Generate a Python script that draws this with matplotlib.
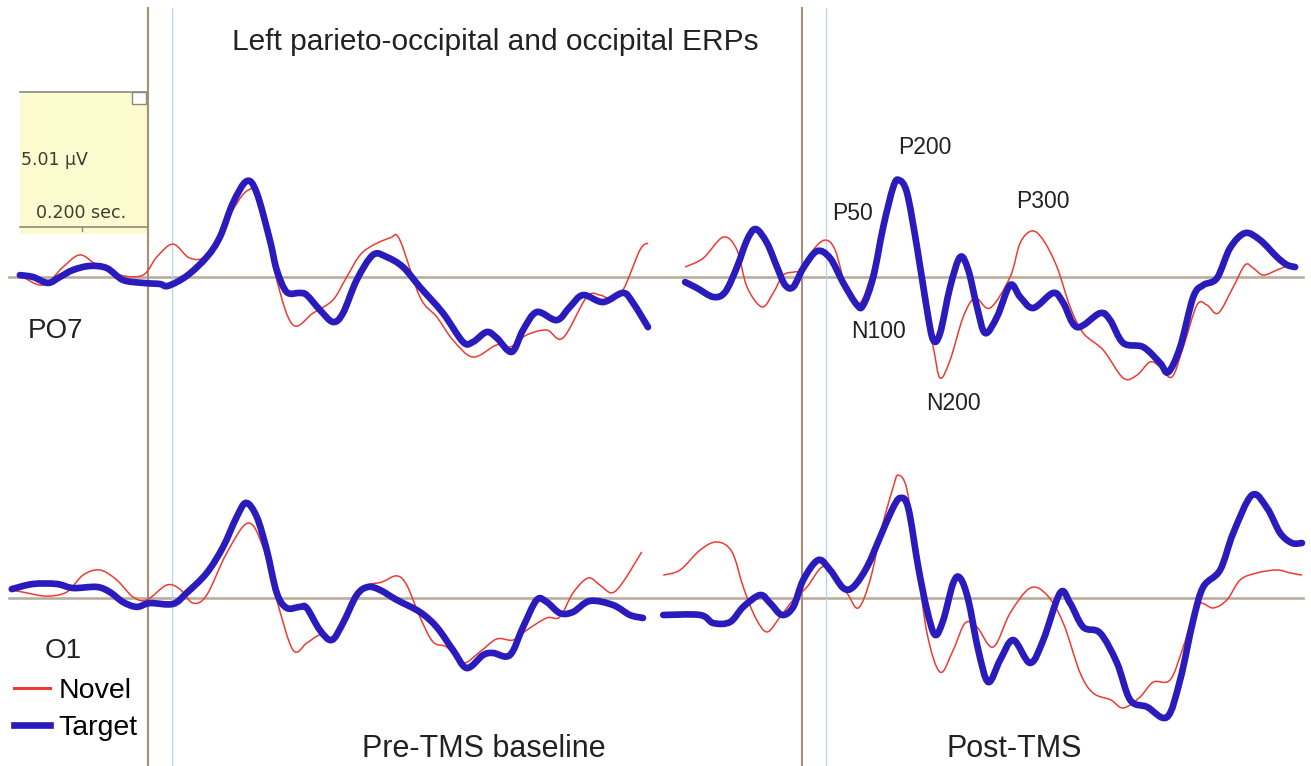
import numpy as np
import matplotlib.pyplot as plt
from matplotlib.lines import Line2D
from matplotlib.patches import Rectangle, PathPatch
from matplotlib.path import Path

plt.rcParams['font.family'] = ['Liberation Sans', 'DejaVu Sans']

# ERP traces: time in ms (0 = brown marker), amplitude in uV
# ---- PO7, pre-TMS baseline
po7_pre_target_t = [-205, -184, -160, -141, -120, -93, -66, -40, -8, 19, 32, 62, 94, 115, 136, 158, 174,
                    195, 206, 222, 243, 254, 275, 296, 312, 334, 360, 382, 408, 435, 472, 504, 520, 542,
                    558, 582, 600, 622, 654, 675, 696, 728, 760, 776, 800]
po7_pre_target_v = [0.07, 0, -0.22, 0, 0.26, 0.41, 0.33, -0.11, -0.22, -0.26, -0.33, 0.04, 0.74, 1.48, 2.75,
                    3.56, 3.12, 1.37, 0.26, -0.56, -0.59, -0.67, -1.22, -1.67, -1.34, -0.11, 0.82, 0.74, 0.37,
                    -0.37, -1.34, -2.41, -2.41, -2.04, -2.26, -2.78, -1.97, -1.30, -1.60, -1.11, -0.67, -0.93,
                    -0.59, -0.96, -1.86]
po7_pre_novel_t = [-205, -168, -136, -109, -82, -45, -8, 14, 40, 67, 94, 126, 158, 179, 206, 232, 264, 296,
                   318, 344, 387, 403, 435, 462, 488, 520, 558, 579, 606, 638, 664, 702, 723, 739, 760, 787, 800]
po7_pre_novel_v = [0.07, -0.30, 0.37, 0.82, 0.45, 0.07, 0.07, 0.74, 1.22, 0.70, 0.82, 2.12, 3.19, 2.86, -0.11,
                   -1.78, -1.34, -0.85, 0, 0.93, 1.45, 1.37, -0.74, -1.48, -2.34, -2.97, -2.52, -2.60, -2.15,
                   -1.97, -2.26, -0.74, -0.67, -0.78, -0.48, 1.00, 1.26]

# ---- PO7, post-TMS
po7_post_target_t = [-187, -168, -142, -123, -104, -88, -74, -56, -40, -27, -14, 2, 24, 45, 66, 88, 98, 114,
                     130, 146, 155, 168, 184, 200, 210, 221, 237, 253, 266, 280, 293, 312, 333, 349, 370, 402,
                     418, 440, 477, 493, 514, 546, 573, 586, 605, 626, 642, 664, 685, 709, 733, 760, 776, 789]
po7_post_target_v = [-0.19, -0.41, -0.74, -0.56, 0.37, 1.37, 1.78, 1.26, 0.37, -0.30, -0.37, 0.33, 0.96, 0.70,
                     -0.22, -1.04, -1.04, 0, 1.86, 3.34, 3.60, 3.12, 1.11, -1.22, -2.34, -2.08, -0.37, 0.74, 0.26,
                     -1.11, -2.08, -1.48, -0.30, -0.74, -1.15, -0.59, -0.96, -1.86, -1.34, -1.60, -2.45, -2.60,
                     -3.19, -3.53, -2.60, -0.74, -0.30, -0.04, 1.08, 1.63, 1.37, 0.74, 0.45, 0.37]
po7_post_novel_t = [-187, -158, -126, -104, -88, -64, -46, -30, -11, 2, 18, 37, 53, 72, 93, 114, 136, 155, 173,
                    194, 210, 221, 237, 258, 277, 301, 333, 349, 368, 386, 408, 429, 450, 482, 514, 536, 557,
                    573, 592, 610, 632, 648, 666, 690, 709, 722, 738, 760, 776]
po7_post_novel_v = [0.37, 0.70, 1.48, 1.00, -0.37, -1.11, -0.59, 0.07, 0.19, 0.26, 1.00, 1.37, 1.00, -0.48,
                    -0.96, 0.37, 2.49, 3.56, 2.60, -0.85, -2.60, -3.75, -3.08, -1.48, -0.78, -1.15, 0, 1.26,
                    1.71, 1.37, 0.37, -1.11, -2.08, -2.71, -3.75, -3.64, -3.15, -3.34, -3.71, -2.60, -1.04,
                    -1.04, -1.34, -0.37, 0.45, 0.33, 0.07, 0.26, 0.41]

# ---- O1, pre-TMS baseline
o1_pre_target_t = [-218, -184, -146, -120, -82, -61, -40, -18, 3, 40, 62, 94, 120, 142, 157, 174, 190, 206,
                   222, 243, 254, 275, 294, 312, 334, 352, 371, 398, 435, 462, 488, 510, 536, 552, 579, 600,
                   622, 638, 659, 680, 707, 744, 771, 792]
o1_pre_target_v = [0.33, 0.52, 0.52, 0.37, 0.41, 0.22, -0.15, -0.33, -0.19, -0.22, 0.19, 0.93, 1.89, 3.01,
                   3.53, 3.01, 1.78, 0.19, -0.37, -0.33, -0.37, -1.19, -1.56, -0.93, 0.11, 0.41, 0.30, -0.07,
                   -0.52, -1.08, -1.93, -2.60, -2.12, -2.04, -2.12, -1.08, -0.07, -0.15, -0.56, -0.52, -0.11,
                   -0.26, -0.63, -0.74]
o1_pre_novel_t = [-218, -194, -162, -130, -104, -77, -50, -24, -2, 30, 51, 72, 94, 126, 160, 184, 206, 232,
                  254, 275, 296, 318, 344, 374, 398, 414, 435, 456, 478, 504, 531, 558, 584, 606, 638, 659,
                  680, 704, 723, 742, 760, 790]
o1_pre_novel_v = [0.30, 0.19, 0.07, 0.22, 0.85, 1.04, 0.67, 0.04, -0.07, 0.48, 0.33, -0.19, 0.11, 1.67, 2.78,
                  1.89, -0.07, -1.93, -1.67, -1.37, -1.45, -0.70, 0.37, 0.59, 0.82, 0.48, -0.70, -1.63, -1.82,
                  -2.41, -2.00, -1.52, -1.56, -1.19, -0.74, -0.70, 0.19, 0.74, 0.48, 0.19, 0.59, 1.71]

# ---- O1, post-TMS
o1_post_target_t = [-222, -163, -142, -115, -94, -67, -51, -32, -14, 2, 26, 45, 66, 82, 104, 125, 144, 157,
                    170, 186, 200, 213, 226, 242, 253, 266, 282, 298, 317, 338, 365, 386, 413, 429, 450, 477,
                    504, 525, 552, 584, 605, 626, 642, 669, 690, 720, 744, 765, 784, 800]
o1_post_target_v = [-0.63, -0.63, -0.93, -0.89, -0.33, 0.11, -0.19, -0.63, -0.33, 0.67, 1.41, 1.04, 0.37, 0.41,
                    1.15, 2.26, 3.27, 3.71, 3.34, 1.15, -0.45, -1.37, -0.82, 0.56, 0.74, -0.07, -1.93, -3.12,
                    -2.30, -1.56, -2.41, -1.56, 0.19, -0.19, -1.08, -1.30, -2.41, -3.78, -4.04, -4.42, -3.04,
                    -0.82, 0.41, 1.04, 2.41, 3.82, 3.34, 2.41, 2.04, 2.04]
o1_post_novel_t = [-222, -195, -163, -136, -112, -94, -75, -56, -35, -14, 8, 32, 50, 72, 90, 109, 128, 146, 154,
                   168, 184, 200, 221, 242, 261, 280, 306, 333, 365, 392, 418, 445, 466, 494, 514, 541, 562,
                   589, 610, 632, 658, 680, 701, 728, 760, 781, 800]
o1_post_novel_v = [0.85, 1.04, 1.78, 2.08, 1.71, 0.41, -0.70, -1.26, -0.70, -0.07, 0.41, 1.15, 0.93, 0.19,
                   -0.37, 0.67, 2.63, 4.12, 4.56, 4.01, 1.41, -1.30, -2.75, -1.93, -0.93, -1.08, -1.82, -0.56,
                   0.37, 0.11, -0.93, -2.78, -3.53, -3.78, -4.08, -3.67, -3.12, -3.04, -1.82, -0.26, -0.37,
                   -0.07, 0.67, 0.93, 1.04, 0.93, 0.85]

conditions = ["Novel", "Target"]
channels = ["PO7", "O1"]
peak_labels = ["P50", "P200", "P300", "N100", "N200"]
cal_uv = "5.01 \u00b5V"
cal_time = "0.200 sec."

# style
W, H = 1311, 766
PX_MS = 0.625      # pixels per ms
PX_UV = 26.95      # pixels per uV
red = '#ee3b32'
blue = '#2a1bbd'
brown = '#a88f76'
base_col = '#bbad9e'
marker_blue = '#b3d3f2'

fig = plt.figure(figsize=(W / 100, H / 100), dpi=100)
fig.patch.set_facecolor('white')


def panel(left, right, top, bottom, zero_x, base_y):
    # axes laid out in figure pixels, data in ms / uV
    ax = fig.add_axes([left / W, 1 - bottom / H, (right - left) / W, (bottom - top) / H])
    ax.set_xlim((left - zero_x) / PX_MS, (right - zero_x) / PX_MS)
    ax.set_ylim((base_y - bottom) / PX_UV, (base_y - top) / PX_UV)
    ax.axis('off')
    return ax


def smooth_trace(ax, t, v, **kw):
    # draw the read points joined by Catmull-Rom bezier segments (passes through every point)
    p = np.column_stack([t, v]).astype(float)
    n = len(p)
    verts = [p[0]]
    codes = [Path.MOVETO]
    for i in range(n - 1):
        p0 = p[max(i - 1, 0)]
        p1 = p[i]
        p2 = p[i + 1]
        p3 = p[min(i + 2, n - 1)]
        verts += [p1 + (p2 - p0) / 6, p2 - (p3 - p1) / 6, p2]
        codes += [Path.CURVE4] * 3
    patch = PathPatch(Path(verts, codes), fill=False, clip_on=False, **kw)
    ax.add_patch(patch)
    return patch


ax_po7_pre = panel(0, 655, 0, 440, 148, 277)
ax_po7_post = panel(655, W, 0, 440, 802, 277)
ax_o1_pre = panel(0, 655, 440, H, 148, 598)
ax_o1_post = panel(655, W, 440, H, 802, 598)

# calibration box (drawn in figure pixels)
box = fig.add_axes([0, 0, 1, 1], zorder=-1)
box.set_xlim(0, W)
box.set_ylim(H, 0)
box.axis('off')
box.add_patch(Rectangle((20, 92), 127, 142, facecolor='#fcfbcf', edgecolor='none'))
box.plot([20, 147], [92, 92], color='#8a8a80', lw=1.2)
box.plot([20, 147], [227, 227], color='#8a8a80', lw=1.2)
box.plot([82, 82], [227, 231], color='#8a8a80', lw=1)
box.add_patch(Rectangle((132, 92), 14, 12, facecolor='white', edgecolor='#8a8a80', lw=1))
box.text(21, 160, cal_uv, fontsize=12.5, color='#3c3c30', va='center', ha='left', family='DejaVu Sans')
box.text(36, 213, cal_time, fontsize=12.5, color='#3c3c30', va='center', ha='left', family='DejaVu Sans')

# reference lines
for ax, x0, x1, top_frac in [(ax_po7_pre, 9 / 655, 1, 1 - 8 / 440), (ax_po7_post, 0, 648 / 656, 1 - 8 / 440),
                             (ax_o1_pre, 9 / 655, 1, 1), (ax_o1_post, 0, 648 / 656, 1)]:
    ax.axhline(0, xmin=x0, xmax=x1, color=base_col, lw=1.9, zorder=1)
    ax.axvline(0, ymin=0, ymax=top_frac, color=brown, lw=1.5, zorder=1)
    ax.axvline(38, ymin=0, ymax=top_frac, color=marker_blue, lw=0.9, zorder=1)

traces = [
    (ax_po7_pre, po7_pre_novel_t, po7_pre_novel_v, po7_pre_target_t, po7_pre_target_v),
    (ax_po7_post, po7_post_novel_t, po7_post_novel_v, po7_post_target_t, po7_post_target_v),
    (ax_o1_pre, o1_pre_novel_t, o1_pre_novel_v, o1_pre_target_t, o1_pre_target_v),
    (ax_o1_post, o1_post_novel_t, o1_post_novel_v, o1_post_target_t, o1_post_target_v),
]
for ax, nt, nv, tt, tv in traces:
    smooth_trace(ax, nt, nv, edgecolor=red, lw=1.1, zorder=2, joinstyle='round')
    smooth_trace(ax, tt, tv, edgecolor=blue, lw=4.8, zorder=3, joinstyle='round', capstyle='round')

# peak labels on post-TMS PO7 (ms, uV)
peak_pos = [(80, 2.37), (197, 4.82), (386, 2.82), (122, -2.04), (242, -4.71)]
for lab, (t, v) in zip(peak_labels, peak_pos):
    ax_po7_post.text(t, v, lab, fontsize=16.5, ha='center', va='center', color='#222222')

fig.text(495 / W, 1 - 42 / H, "Left parieto-occipital and occipital ERPs", fontsize=21.5,
         ha='center', va='center', color='#222222')
fig.text(28 / W, 1 - 331 / H, channels[0], fontsize=20, ha='left', va='center', color='#222222')
fig.text(45 / W, 1 - 651 / H, channels[1], fontsize=20, ha='left', va='center', color='#222222')
fig.text(484 / W, 1 - 749 / H, "Pre-TMS baseline", fontsize=22, ha='center', va='center', color='#222222')
fig.text(1014 / W, 1 - 749 / H, "Post-TMS", fontsize=22, ha='center', va='center', color='#222222')

leg_handles = [Line2D([], [], color=red, lw=2.2), Line2D([], [], color=blue, lw=4.8)]
fig.legend(leg_handles, conditions, loc='upper left', bbox_to_anchor=(14 / W, 1 - 678 / H),
           frameon=False, fontsize=20.5, handlelength=1.25, handletextpad=0.3,
           labelspacing=0.4, borderpad=0, borderaxespad=0)

fig.savefig('out.png', dpi=100, facecolor='white')
